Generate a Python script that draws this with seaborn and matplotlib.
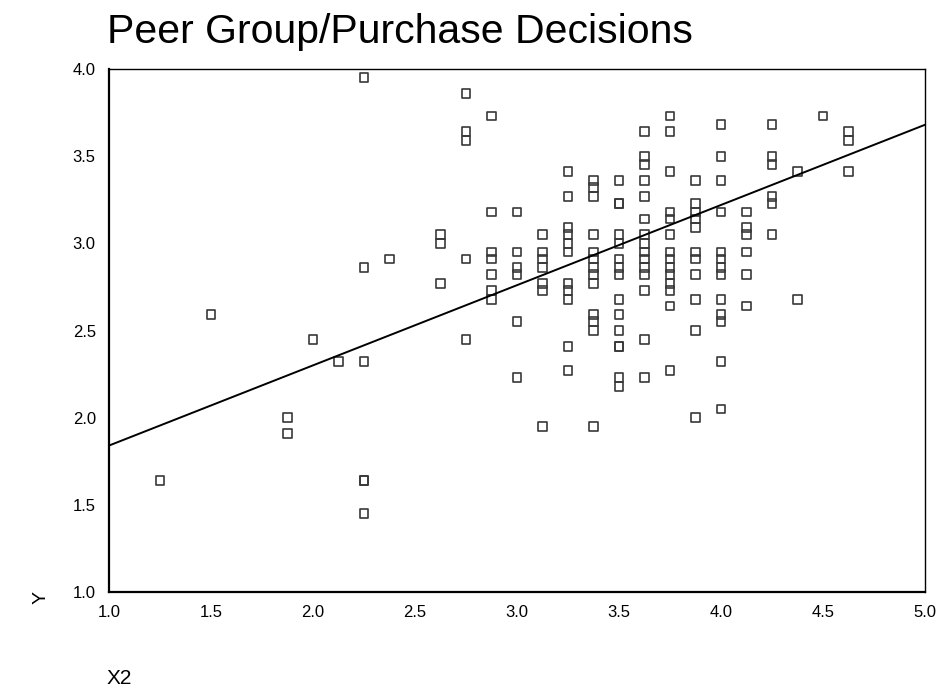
import numpy as np
import pandas as pd
import matplotlib
matplotlib.use("Agg")
import matplotlib.pyplot as plt
import seaborn as sns

# Peer-group score (X2) columns and the purchase-decision scores (Y) observed at each
x_levels = [1.25, 1.5, 1.875, 2.0, 2.125, 2.25, 2.375, 2.625, 2.75, 2.875,
            3.0, 3.125, 3.25, 3.375, 3.5, 3.625, 3.75, 3.875, 4.0, 4.125,
            4.25, 4.375, 4.5, 4.625]

y_at_125 = [1.64]
y_at_150 = [2.59]
y_at_1875 = [2.00, 1.91]
y_at_200 = [2.45]
y_at_2125 = [2.32]
y_at_225 = [3.95, 2.86, 2.32, 1.64, 1.64, 1.45]
y_at_2375 = [2.91]
y_at_2625 = [3.05, 3.00, 2.77]
y_at_275 = [3.86, 3.64, 3.59, 2.91, 2.45]
y_at_2875 = [3.73, 3.18, 2.95, 2.91, 2.82, 2.73, 2.68]
y_at_300 = [3.18, 2.95, 2.86, 2.82, 2.55, 2.23]
y_at_3125 = [3.05, 2.95, 2.91, 2.86, 2.77, 2.73, 1.95]
y_at_325 = [3.41, 3.27, 3.09, 3.05, 3.00, 2.95, 2.77, 2.73, 2.68, 2.41, 2.27]
y_at_3375 = [3.36, 3.32, 3.27, 3.05, 2.95, 2.91, 2.86, 2.82, 2.77,
             2.59, 2.55, 2.50, 1.95]
y_at_350 = [3.36, 3.23, 3.23, 3.05, 3.00, 2.91, 2.86, 2.82, 2.68, 2.59,
            2.50, 2.41, 2.41, 2.23, 2.18]
y_at_3625 = [3.64, 3.50, 3.45, 3.36, 3.27, 3.14, 3.05, 3.00, 2.95, 2.91,
             2.86, 2.82, 2.73, 2.45, 2.23]
y_at_375 = [3.73, 3.64, 3.41, 3.18, 3.14, 3.05, 2.95, 2.91, 2.86, 2.82,
            2.77, 2.73, 2.64, 2.27]
y_at_3875 = [3.36, 3.23, 3.18, 3.14, 3.09, 2.95, 2.91, 2.82, 2.68, 2.50, 2.00]
y_at_400 = [3.68, 3.50, 3.36, 3.18, 2.95, 2.91, 2.86, 2.82, 2.68, 2.59,
            2.55, 2.32, 2.05]
y_at_4125 = [3.18, 3.09, 3.05, 2.95, 2.82, 2.64]
y_at_425 = [3.68, 3.50, 3.45, 3.27, 3.23, 3.05]
y_at_4375 = [3.41, 2.68]
y_at_450 = [3.73]
y_at_4625 = [3.64, 3.59, 3.41]

y_columns = [y_at_125, y_at_150, y_at_1875, y_at_200, y_at_2125, y_at_225,
             y_at_2375, y_at_2625, y_at_275, y_at_2875, y_at_300, y_at_3125,
             y_at_325, y_at_3375, y_at_350, y_at_3625, y_at_375, y_at_3875,
             y_at_400, y_at_4125, y_at_425, y_at_4375, y_at_450, y_at_4625]

# Least-squares fit line of the full sample (value at X2 = 1 and X2 = 5)
fit_x = [1.0, 5.0]
fit_y = [1.84, 3.68]

x_ticks = [1.0, 1.5, 2.0, 2.5, 3.0, 3.5, 4.0, 4.5, 5.0]
y_ticks = [1.0, 1.5, 2.0, 2.5, 3.0, 3.5, 4.0]
x_tick_labels = ["1.0", "1.5", "2.0", "2.5", "3.0", "3.5", "4.0", "4.5", "5.0"]
y_tick_labels = ["1.0", "1.5", "2.0", "2.5", "3.0", "3.5", "4.0"]

df = pd.DataFrame({
    "X2": [x for x, ys in zip(x_levels, y_columns) for _ in ys],
    "Y": [y for ys in y_columns for y in ys],
})
fit_df = pd.DataFrame({"X2": fit_x, "Y": fit_y})

sns.set_style("white")
plt.rcParams["font.family"] = ["Liberation Sans", "DejaVu Sans"]

fig = plt.figure(figsize=(9.45, 6.9), dpi=100)
ax = fig.add_axes([0.1153, 0.142, 0.8635, 0.758])

sns.scatterplot(data=df, x="X2", y="Y", ax=ax, marker="s", s=40,
                facecolor="none", edgecolor="#383838", linewidth=1.2,
                zorder=3)
sns.lineplot(data=fit_df, x="X2", y="Y", ax=ax, color="black",
             linewidth=1.4, zorder=4)

ax.set_xlim(1.0, 5.0)
ax.set_ylim(1.0, 4.0)
ax.set_xticks(x_ticks)
ax.set_xticklabels(x_tick_labels)
ax.set_yticks(y_ticks)
ax.set_yticklabels(y_tick_labels)
ax.tick_params(axis="both", direction="out", length=2.5, width=2.2,
               color="black", labelsize=12, labelcolor="black")
ax.tick_params(axis="y", pad=7)
ax.tick_params(axis="x", pad=7)
ax.set_xlabel("")
ax.set_ylabel("")

for side in ["left", "bottom"]:
    ax.spines[side].set_linewidth(1.6)
    ax.spines[side].set_color("black")
for side in ["top", "right"]:
    ax.spines[side].set_linewidth(1.0)
    ax.spines[side].set_color("black")

fig.text(0.113, 0.953, "Peer Group/Purchase Decisions", fontsize=29.5,
         ha="left", va="center", color="black")
fig.text(0.043, 0.134, "Y", fontsize=14, rotation=90, ha="center",
         va="center", color="black")
fig.text(0.113, 0.003, "X2", fontsize=15, ha="left", va="bottom",
         color="black")

fig.savefig("out.png", dpi=100, facecolor="white")
